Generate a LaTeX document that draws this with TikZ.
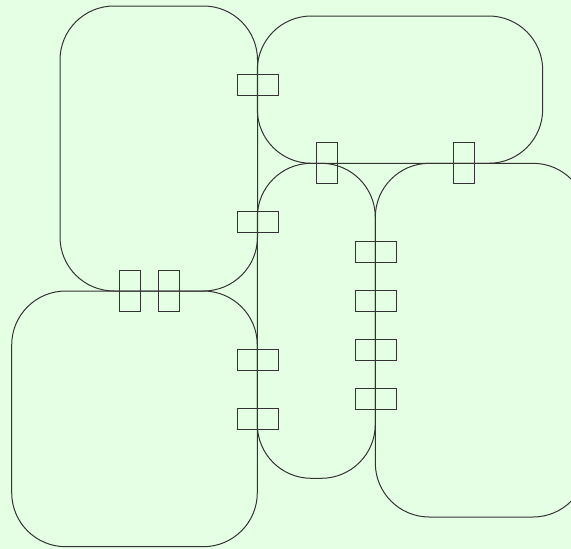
\documentclass[tikz,border=0pt]{standalone}
\definecolor{bgc}{HTML}{E5FFE5}
\definecolor{linec}{HTML}{333333}
\begin{document}
\begin{tikzpicture}[x=1pt,y=-1pt,
  comp/.style={draw=linec, line width=1pt, rounded corners=54pt, inner sep=0pt, outer sep=0pt, rectangle},
  porth/.style={draw=linec, line width=1pt, minimum width=41pt, minimum height=21pt, inner sep=0pt, outer sep=0pt, rectangle},
  portv/.style={draw=linec, line width=1pt, minimum width=21pt, minimum height=41pt, inner sep=0pt, outer sep=0pt, rectangle}]
\fill[bgc] (0,0) rectangle (571,549);
\useasboundingbox (0,0) rectangle (571,549);
% components
\node[comp, minimum width=197.5pt, minimum height=285pt] (A) at (158.75,148.5) {};
\node[comp, minimum width=285.4pt, minimum height=147.3pt] (B) at (400,89.65) {};
\node[comp, minimum width=118pt, minimum height=315pt] (C) at (316.3,320.8) {};
\node[comp, minimum width=211.7pt, minimum height=353.7pt] (D) at (481.15,340.15) {};
\node[comp, minimum width=245.6pt, minimum height=255.7pt] (E) at (134.5,418.85) {};
% ports on x = 257.3
\node[porth] (p1) at (257.8,85) {};
\node[porth] (p2) at (257.8,222) {};
\node[porth] (p3) at (257.8,360) {};
\node[porth] (p4) at (257.8,419) {};
% ports on x = 375.3
\node[porth] (p5) at (375.7,252) {};
\node[porth] (p6) at (375.7,301) {};
\node[porth] (p7) at (375.7,350) {};
\node[porth] (p8) at (375.7,399) {};
% ports on y = 163.3
\node[portv] (p9) at (326.7,163.3) {};
\node[portv] (p10) at (464.2,163.3) {};
% ports on y = 291
\node[portv] (p11) at (129.8,291) {};
\node[portv] (p12) at (169.3,291) {};
\end{tikzpicture}
\end{document}
